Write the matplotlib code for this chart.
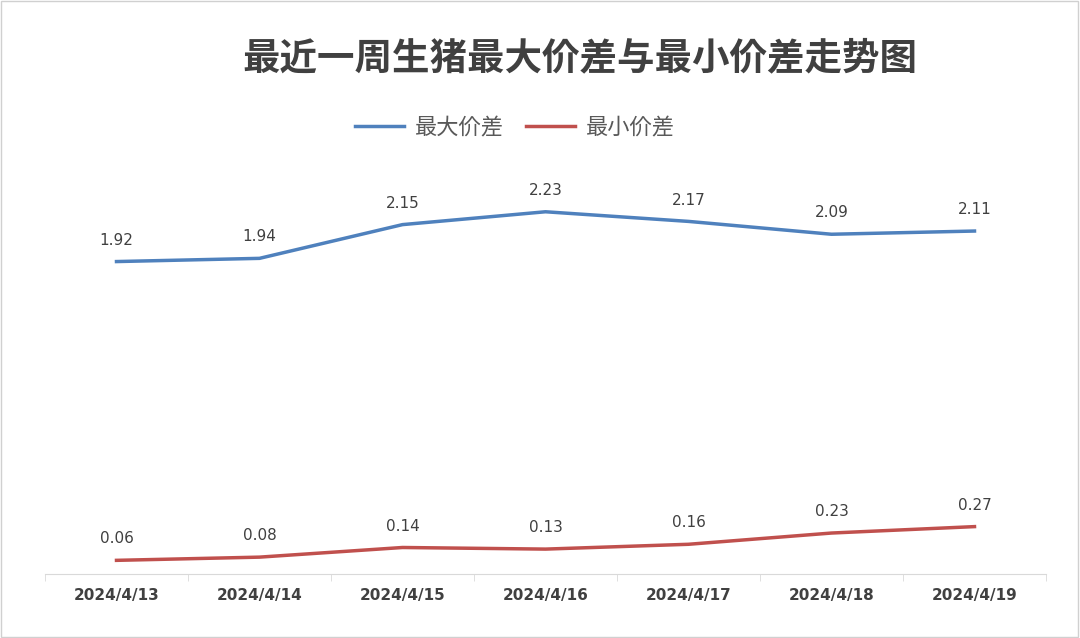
import matplotlib
matplotlib.use("Agg")
import matplotlib.pyplot as plt
from matplotlib.patches import Rectangle
from matplotlib import font_manager

dates = ["2024/4/13", "2024/4/14", "2024/4/15", "2024/4/16", "2024/4/17", "2024/4/18", "2024/4/19"]
max_diff = [1.92, 1.94, 2.15, 2.23, 2.17, 2.09, 2.11]
min_diff = [0.06, 0.08, 0.14, 0.13, 0.16, 0.23, 0.27]

names = {f.name for f in font_manager.fontManager.ttflist}
cjk = [n for n in ["Noto Sans CJK SC", "Noto Sans CJK JP", "Noto Sans CJK TC", "Noto Sans CJK KR"] if n in names]
if not cjk:
    cjk = [f.name for f in font_manager.fontManager.ttflist if "CJK" in f.name][:1]
plt.rcParams["font.family"] = ["DejaVu Sans"] + cjk
cjk_font = cjk[0] if cjk else "DejaVu Sans"

fig = plt.figure(figsize=(10.8, 6.38), dpi=100)
fig.patches.append(Rectangle((0.001, 0.001), 0.997, 0.997, transform=fig.transFigure,
                             fill=False, edgecolor="#d0d0d0", lw=1))
ax = fig.add_axes([45/1080, 1-574/638, 1001/1080, 404/638])
x = list(range(len(dates)))
ax.plot(x, max_diff, color="#4f81bd", lw=2.5, label="最大价差")
ax.plot(x, min_diff, color="#c0504d", lw=2.5, label="最小价差")
for series in (max_diff, min_diff):
    for xi, v in zip(x, series):
        ax.annotate(f"{v:.2f}", (xi, v), xytext=(0, 10), textcoords="offset points",
                    ha="center", va="bottom", fontsize=11, color="#404040")
ax.set_xlim(-0.5, len(dates)-0.5)
ax.set_ylim(-0.025, 2.49)
ax.set_yticks([])
ax.set_xticks(x)
ax.set_xticklabels(dates, fontsize=11, color="#404040", fontweight="bold")
ax.set_xticks([i+0.5 for i in range(-1, len(dates))], minor=True)
ax.tick_params(axis="x", which="major", length=0, pad=10)
ax.tick_params(axis="x", which="minor", length=5, color="#d9d9d9")
for s in ["top", "right", "left"]:
    ax.spines[s].set_visible(False)
ax.spines["bottom"].set_color("#d9d9d9")
fig.text(0.537, 0.91, "最近一周生猪最大价差与最小价差走势图", ha="center", va="center",
         fontsize=27, fontweight="bold", color="#404040", family=cjk_font)
fig.legend(loc="center", bbox_to_anchor=(0.477, 0.80), ncol=2, frameon=False,
           prop={"family": cjk_font, "size": 16}, handlelength=2.2, columnspacing=1.0,
           handletextpad=0.5, labelcolor="#595959")
fig.savefig("out.png", dpi=100)
